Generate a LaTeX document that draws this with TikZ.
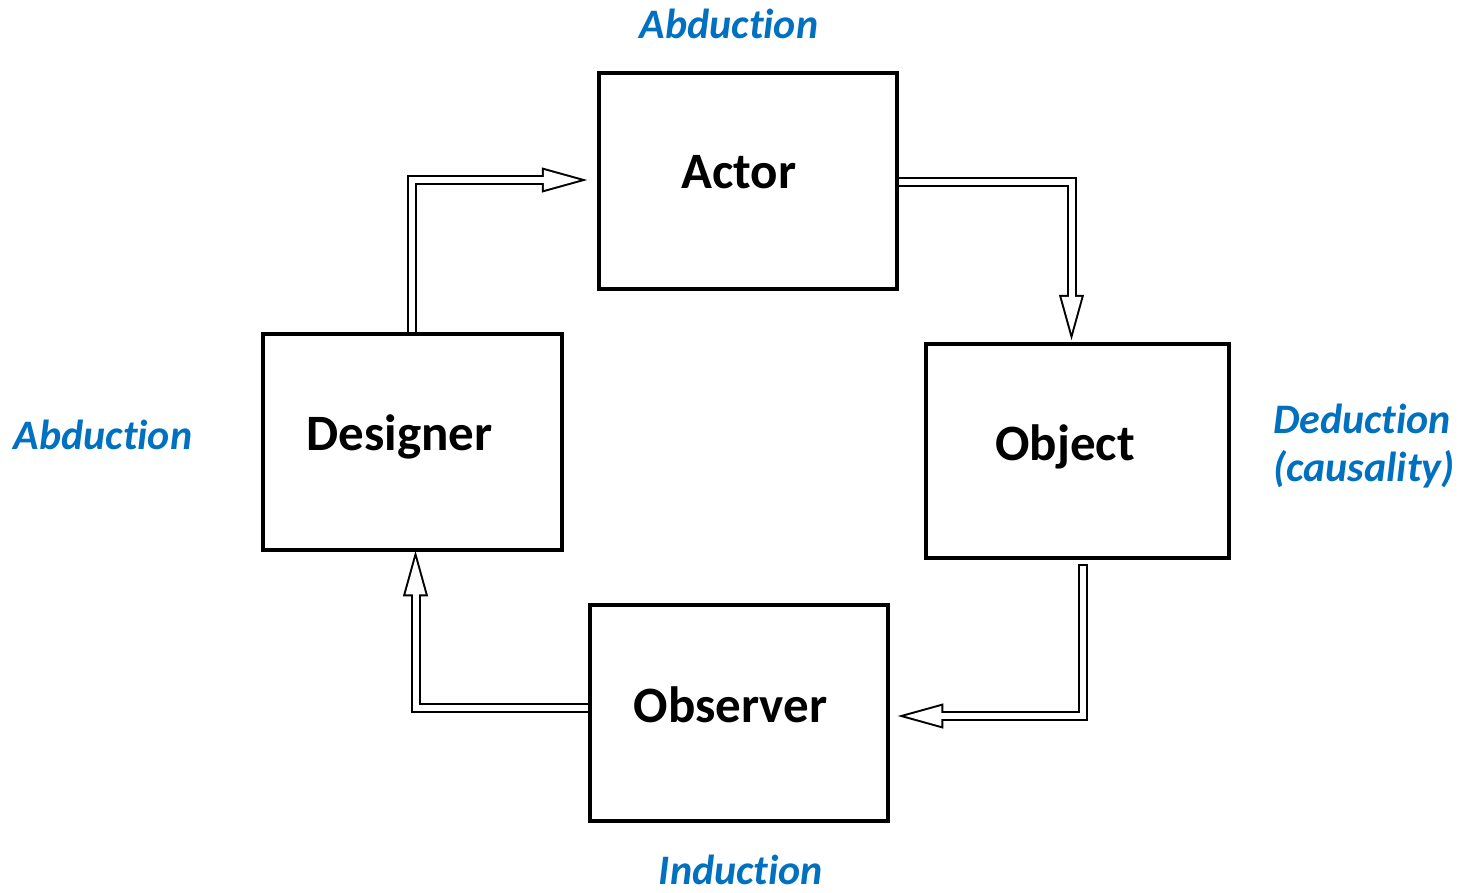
\documentclass[tikz,border=0pt]{standalone}
\usepackage{fontspec}
\setmainfont{Carlito}[Ligatures=NoCommon]
\usetikzlibrary{calc}
\definecolor{labelblue}{HTML}{0070C0}
\tikzset{
  box/.style={draw=black, line width=4.5pt, minimum width=298pt, minimum height=216pt, inner sep=0pt},
  boxtext/.style={font=\bfseries\fontsize{51}{60}\selectfont, anchor=base, inner sep=0pt},
  steplabel/.style={font=\bfseries\itshape\fontsize{42}{50}\selectfont, text=labelblue, inner sep=0pt, text depth=0pt},
  % hollow block arrow: a black outline layer, then a white interior layer
  shaftblack/.style={draw=black, line width=10pt, line join=miter},
  shaftwhite/.style={draw=white, line width=6pt, line join=miter},
  pics/headblack/.style={code={\filldraw[black, line width=4pt, line join=miter] (0,-10) -- (36,0) -- (0,10) -- cycle;}},
  pics/headwhite/.style={code={\fill[white] (0,-10) -- (36,0) -- (0,10) -- cycle;}},
}
\begin{document}
\begin{tikzpicture}[x=1pt, y=-1pt]
\useasboundingbox (0,0) rectangle (1463,892);

% boxes
\node[box] (actor) at (748,181) {};
\node[box, minimum width=299pt] (designer) at (412.5,442) {};
\node[box, minimum width=303pt, minimum height=214pt] (object) at (1077.5,451) {};
\node[box] (observer) at (739,713) {};

% box titles
\node[boxtext] (actortext) at ($(actor)+(-9,7)$) {Actor};
\node[boxtext] (designertext) at ($(designer)+(-13,8)$) {Designer};
\node[boxtext] (objecttext) at ($(object)+(-12.5,9)$) {Object};
\node[boxtext] (observertext) at ($(observer)+(-8.5,9)$) {Observer};

% reasoning labels
\node[steplabel, anchor=base] (abdtop) at (729,38) {Abduction};
\node[steplabel, anchor=base] (abdleft) at (103,449) {Abduction};
\node[steplabel, anchor=base] (induction) at (741,884) {Induction};
\node[steplabel, anchor=base west] (deduction) at (1273,433) {Deduction};
\node[steplabel, anchor=base west] (causality) at (1273,481) {(causality)};

% arrow head bases and shaft starts
\coordinate (c1) at ($(actor.west)+(-53,-1)$);
\coordinate (c2) at ($(object.north)+(-6,-45)$);
\coordinate (s3) at ($(object.south)+(5.5,4)$);
\coordinate (c3) at ($(observer.east)+(51,3)$);
\coordinate (s4) at ($(observer.west)+(0,-5)$);
\coordinate (c4) at ($(designer.south)+(3,42)$);
\coordinate (s1) at ($(designer.north)+(-1,0)$);
\coordinate (s2) at ($(actor.east)+(0,1)$);

% designer -> actor
\draw[shaftblack] (s1) |- (c1);
\pic at (c1) {headblack};
\draw[shaftwhite] (s1) |- (c1);
\pic at (c1) {headwhite};

% actor -> object
\draw[shaftblack] (s2) -| (c2);
\pic[rotate=-90] at (c2) {headblack};
\draw[shaftwhite] (s2) -| (c2);
\pic[rotate=-90] at (c2) {headwhite};

% object -> observer
\draw[shaftblack] (s3) |- (c3);
\pic[rotate=180] at (c3) {headblack};
\draw[shaftwhite, shorten <=2pt] (s3) |- (c3);
\pic[rotate=180] at (c3) {headwhite};

% observer -> designer
\draw[shaftblack] (s4) -| (c4);
\pic[rotate=90] at (c4) {headblack};
\draw[shaftwhite] (s4) -| (c4);
\pic[rotate=90] at (c4) {headwhite};
\end{tikzpicture}
\end{document}
